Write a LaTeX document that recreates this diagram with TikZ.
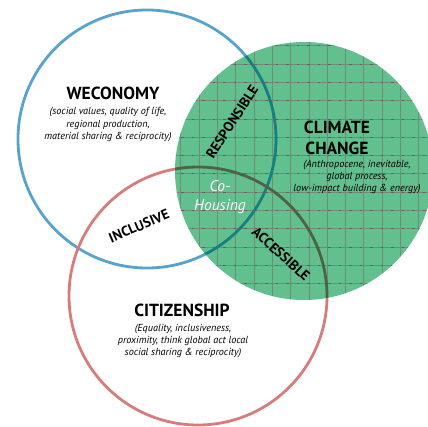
\documentclass[tikz,border=0pt]{standalone}
\usepackage{fontspec}
\setmainfont{PT Sans}
\definecolor{cblue}{RGB}{88,163,205}
\definecolor{cred}{RGB}{214,124,124}
\definecolor{cgreen}{RGB}{98,191,142}
\definecolor{cteal}{RGB}{22,128,128}
\definecolor{colive}{RGB}{78,98,70}
\definecolor{cgrid}{RGB}{112,140,118}
\definecolor{cgridd}{RGB}{105,90,100}
\tikzset{
  ring/.style={line width=2.8pt},
  title/.style={font=\bfseries\fontsize{17.5}{18}\selectfont, align=center},
  sub/.style={font=\itshape\fontsize{10.2}{12.3}\selectfont, align=center},
  tag/.style={font=\bfseries\fontsize{14}{15}\selectfont},
  gridl/.style={cgrid, line width=0.8pt},
  gridd/.style={cgridd, line width=0.8pt, dash pattern=on 2.5pt off 8pt},
}
\begin{document}
\begin{tikzpicture}[x=1pt,y=-1pt]
\useasboundingbox (0,0) rectangle (428,426);
\coordinate (cw) at (147,139);
\coordinate (cc) at (304,171);
\coordinate (ci) at (198,296);
% rings
\draw[ring, cblue] (cw) circle[radius=129pt];
\draw[ring, cred] (ci) circle[radius=129pt];
% green disc with grid
\begin{scope}
  \clip (cc) circle[radius=129pt];
  \fill[cgreen] (cc) circle[radius=131pt];
  \foreach \k in {-7,...,10} {
    \draw[gridl] ({272.3+18.3*\k},30) -- ({272.3+18.3*\k},310);
  }
  \foreach \k in {-3,...,13} {
    \draw[gridl] (160,{64+18.3*\k}) -- (440,{64+18.3*\k});
    \draw[gridd] (160,{64+18.3*\k}) -- (440,{64+18.3*\k});
  }
  \draw[ring, cteal] (cw) circle[radius=129pt];
  \draw[ring, colive] (ci) circle[radius=129pt];
\end{scope}
% texts
\node[title] (wt) at (113,93) {WECONOMY};
\node[sub] (ws) at (108,124.5) {(social values, quality of life,\\regional production,\\material sharing \& reciprocity)};
\node[title, font=\bfseries\fontsize{17.5}{21}\selectfont] (ct) at (337,137.5) {CLIMATE\\CHANGE};
\node[sub] (cs) at (357,177) {(Anthropocene, inevitable,\\global process,\\low-impact building \& energy)};
\node[title] (it) at (182,310) {CITIZENSHIP};
\node[sub] (is) at (183,341) {(Equality, inclusiveness,\\proximity, think global act local\\social sharing \& reciprocity)};
\node[font=\itshape\fontsize{15.5}{19}\selectfont, text=white, align=center] (co) at (220,197.5) {Co-\\Housing};
\node[tag, rotate=23] (inc) at (139,226) {INCLUSIVE};
\node[tag, rotate=57] (res) at (232,122) {RESPONSIBLE};
\node[tag, rotate=-42] (acc) at (281,254) {ACCESSIBLE};
\end{tikzpicture}
\end{document}
